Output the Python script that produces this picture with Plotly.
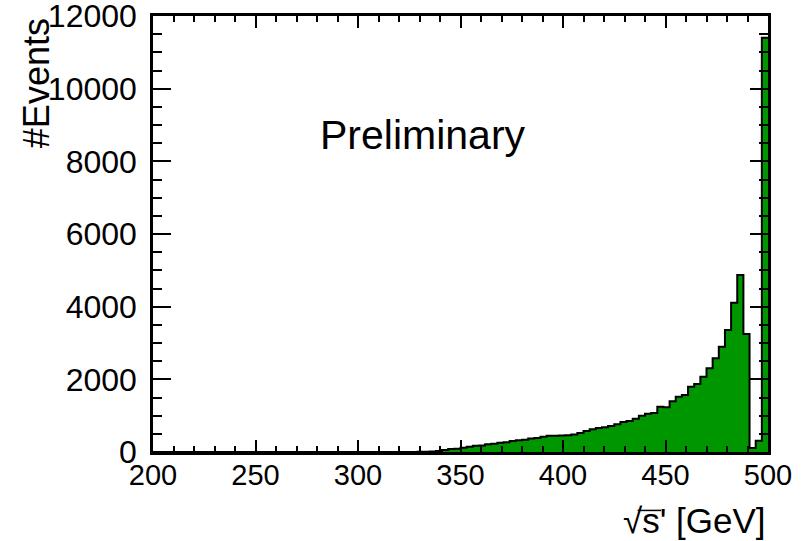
import numpy as np
import plotly.graph_objects as go

# Histogram: sqrt(s') in 3 GeV bins from 200 to 500 GeV
bin_width = 3
x_min, x_max = 200, 500
counts = [
    0, 0, 0, 0, 0, 0, 0, 0, 0, 0,
    0, 0, 0, 0, 0, 0, 0, 0, 0, 0,
    0, 0, 0, 0, 0, 0, 0, 0, 0, 0,
    0, 0, 0, 0, 0, 0, 0, 0, 0, 0,
    0, 0, 2, 4, 8, 15, 30, 55, 80, 90,
    119, 147, 170, 180, 215, 225, 255, 265, 300, 320,
    335, 370, 385, 420, 445, 450, 455, 460, 480, 520,
    578, 624, 660, 680, 716, 761, 826, 853, 917, 1000,
    1055, 1070, 1245, 1230, 1395, 1523, 1569, 1798, 1872, 2073,
    2303, 2578, 2899, 3358, 4110, 4872, 3248, 110, 310, 11400,
]
x_ticks = [200, 250, 300, 350, 400, 450, 500]
y_ticks = [0, 2000, 4000, 6000, 8000, 10000, 12000]

edges = np.arange(x_min, x_max + bin_width, bin_width)
step_x = list(edges)
step_y = list(counts) + [counts[-1]]

FONT = "Liberation Sans, Arial, Helvetica, sans-serif"
GREEN = "#009600"

fig = go.Figure()
fig.add_trace(go.Scatter(
    x=step_x, y=step_y, mode="lines", line_shape="hv",
    line=dict(color="black", width=2),
    fill="tozeroy", fillcolor=GREEN, hoverinfo="skip", showlegend=False,
))

axis_common = dict(
    showline=True, linecolor="black", linewidth=2.5, mirror="allticks",
    ticks="inside", tickcolor="black", showgrid=False, zeroline=False,
    automargin=False, ticklabeloverflow="allow",
)

fig.update_xaxes(
    range=[x_min, x_max], tickvals=x_ticks, ticktext=[str(v) for v in x_ticks],
    ticklen=12, tickwidth=2,
    minor=dict(ticks="inside", ticklen=6, tickwidth=2, dtick=10, tickcolor="black"),
    tickfont=dict(family=FONT, size=29, color="black"),
    ticklabelstandoff=-5,
    **axis_common,
)
fig.update_yaxes(
    range=[0, 12000], tickvals=y_ticks, ticktext=[str(v) for v in y_ticks],
    ticklen=18, tickwidth=2,
    minor=dict(ticks="inside", ticklen=9, tickwidth=2, dtick=500, tickcolor="black"),
    tickfont=dict(family=FONT, size=32, color="black"),
    ticklabelstandoff=7,
    **axis_common,
)

fig.add_annotation(
    x=0.268, y=0.727, xref="paper", yref="paper", xanchor="left", yanchor="middle",
    text="Preliminary", showarrow=False,
    font=dict(family=FONT, size=41, color="black"),
)
fig.add_annotation(
    x=1.0, y=-0.156, xref="paper", yref="paper", xanchor="right", yanchor="middle",
    text="√s' [GeV]", showarrow=False,
    font=dict(family=FONT, size=35, color="black"),
)
fig.add_annotation(
    x=-0.19, y=1.0, xref="paper", yref="paper", xanchor="center", yanchor="top",
    text="#Events", textangle=-90, showarrow=False,
    font=dict(family=FONT, size=36, color="black"),
)
# overline of the square-root sign
fig.add_shape(
    type="line", xref="paper", yref="paper",
    x0=0.788, x1=0.826, y0=-0.134, y1=-0.134,
    line=dict(color="black", width=1.5),
)

fig.update_layout(
    width=811, height=541,
    margin=dict(l=153, r=43, t=16, b=89),
    paper_bgcolor="white", plot_bgcolor="white",
)

fig.write_html("out.html")
